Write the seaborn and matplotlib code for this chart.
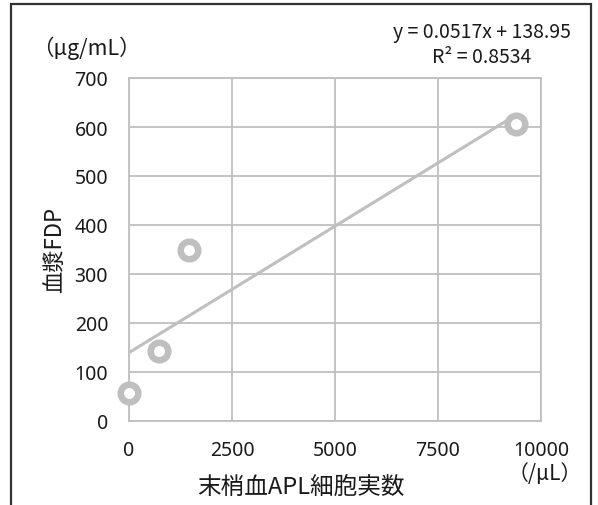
import matplotlib
matplotlib.use('Agg')
import matplotlib.pyplot as plt
import seaborn as sns
import pandas as pd
from matplotlib.patches import Rectangle

sns.set_style('white')
plt.rcParams['font.family'] = ['Noto Sans CJK JP', 'DejaVu Sans']

# 末梢血APL細胞実数 (/μL) と 血漿FDP (μg/mL)
apl_count = [0, 730, 1460, 9390]
plasma_fdp = [58, 142, 350, 606]
x_ticks = [0, 2500, 5000, 7500, 10000]
y_ticks = [0, 100, 200, 300, 400, 500, 600, 700]
equation = 'y = 0.0517x + 138.95\nR² = 0.8534'

df = pd.DataFrame({'apl': apl_count, 'fdp': plasma_fdp})

grey = '#BFBFBF'
ink = '#1a1a1a'
fig = plt.figure(figsize=(5.98, 5.06), dpi=100)
ax = fig.add_axes([129 / 598, 1 - 422 / 506, 412 / 598, 343 / 506])

# 近似直線
sns.regplot(data=df, x='apl', y='fdp', ax=ax, scatter=False, ci=None,
            line_kws={'color': grey, 'lw': 2.2, 'zorder': 3})
# データ点
sns.scatterplot(data=df, x='apl', y='fdp', ax=ax, s=160, marker='o',
                facecolor='white', edgecolor=grey, linewidth=4.7, zorder=4,
                clip_on=False)

ax.set_xlim(x_ticks[0], x_ticks[-1])
ax.set_ylim(y_ticks[0], y_ticks[-1])
ax.set_xticks(x_ticks)
ax.set_yticks(y_ticks)
ax.tick_params(axis='both', length=0, labelsize=14, colors=ink)
ax.tick_params(axis='x', pad=13.5)
ax.tick_params(axis='y', pad=15)
plt.setp(ax.get_xticklabels() + ax.get_yticklabels(), fontfamily='Noto Sans')
ax.grid(True, color=grey, lw=1.3)
for sp in ax.spines.values():
    sp.set_color(grey)
    sp.set_linewidth(1.3)

ax.set_xlabel('')
ax.set_ylabel('')
fig.text(301 / 598, 1 - 488 / 506, '末梢血APL細胞実数', fontsize=17,
         ha='center', va='center', color=ink)
fig.text(55 / 598, 1 - 250 / 506, '血漿FDP', fontsize=16, rotation=90,
         ha='center', va='center', color=ink)
fig.text(86 / 598, 1 - 48 / 506, '（μg/mL）', fontsize=15.5,
         ha='center', va='center', color=ink)
fig.text(545 / 598, 1 - 474 / 506, '（/μL）', fontsize=15,
         ha='center', va='center', color=ink)
fig.text(482 / 598, 1 - 45 / 506, equation, fontsize=14, ha='center',
         va='center', linespacing=1.25, color=ink)

# 外枠
fig.patches.append(Rectangle((11 / 598, -0.05), 580 / 598, 1.05 - 5 / 506,
                             transform=fig.transFigure, fill=False,
                             edgecolor='#333333', lw=1.6))

fig.savefig('out.png', dpi=100)
